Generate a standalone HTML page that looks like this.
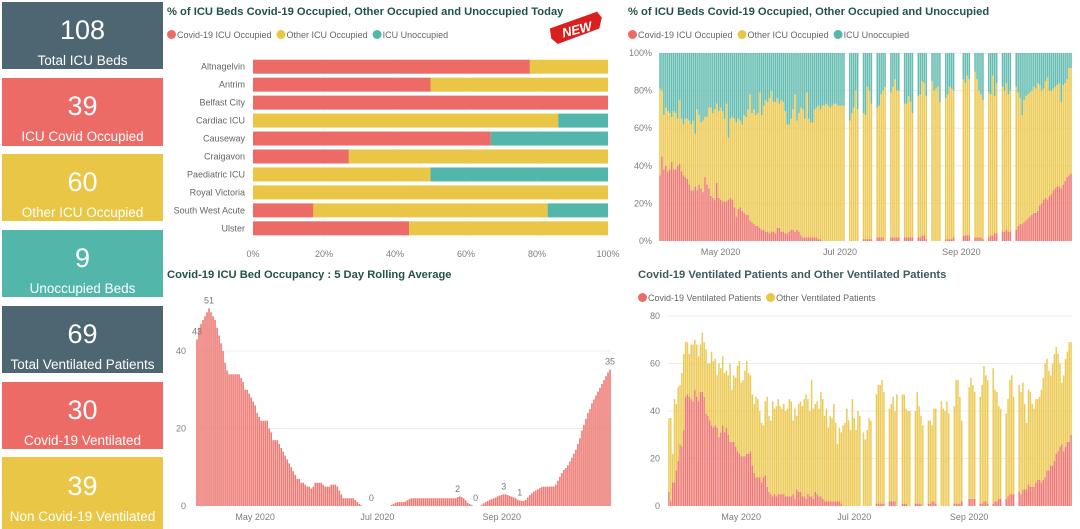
<!DOCTYPE html>
<html><head><meta charset="utf-8"><style>
body{margin:0;width:1080px;height:529px;background:#fff;overflow:hidden;font-family:"Liberation Sans",sans-serif;position:relative}
.card{position:absolute;left:2px;width:161px;color:#fff;text-align:center}
.card .n{position:absolute;left:0;right:0;font-size:27px;line-height:30px}
.card .l{position:absolute;left:0;right:0;font-size:13.5px;line-height:16px}
svg{position:absolute;left:0;top:0}
</style></head><body>
<div class="card" style="top:2px;height:67px;background:#4e6672"><div class="n" style="top:13px">108</div><div class="l" style="top:51px">Total ICU Beds</div></div>
<div class="card" style="top:78px;height:68px;background:#ec6b66"><div class="n" style="top:13px">39</div><div class="l" style="top:51px">ICU Covid Occupied</div></div>
<div class="card" style="top:154px;height:67px;background:#e9c646"><div class="n" style="top:13px">60</div><div class="l" style="top:51px">Other ICU Occupied</div></div>
<div class="card" style="top:230px;height:67px;background:#53b6ab"><div class="n" style="top:13px">9</div><div class="l" style="top:51px">Unoccupied Beds</div></div>
<div class="card" style="top:306px;height:67px;background:#4e6672"><div class="n" style="top:13px">69</div><div class="l" style="top:51px">Total Ventilated Patients</div></div>
<div class="card" style="top:382px;height:67px;background:#ec6b66"><div class="n" style="top:13px">30</div><div class="l" style="top:51px">Covid-19 Ventilated</div></div>
<div class="card" style="top:457px;height:72px;background:#e9c646"><div class="n" style="top:14px">39</div><div class="l" style="top:52px">Non Covid-19 Ventilated</div></div>
<svg id="s" width="1080" height="529" font-family="Liberation Sans, sans-serif"></svg>
<script>
// ---------- data: hospital bar chart ----------
const hospitals=['Altnagelvin','Antrim','Belfast City','Cardiac ICU','Causeway','Craigavon','Paediatric ICU','Royal Victoria','South West Acute','Ulster'];
const hospCovid=[78,50,100,0,67,27,0,0,17,44];
const hospOther=[22,50,0,86,0,73,50,100,66,56];
const hospUnocc=[0,0,0,14,33,0,50,0,17,0];
const pctTicks=[0,20,40,60,80,100];
// ---------- data: rolling average ----------
const rollStart='2020-04-02';
const rollAvg=[43,46,47,48,49,50,51,50,49,48,46,44,42,40,37,35,34,34,34,34,34,34,33,32,30,30,29,28,27,26,24,23,22,22,22,22,20,19,17,17,17,16,15,14,13,12,11,10,9,8,7,7,6,6,5.5,5,5,4.5,5,6,6,6,6,5.5,5,5,5,5.5,5.5,5.5,5,4,3,2,2,2,2,2,2,1.5,1,0.5,0.2,0,0,0,0,0,0,0,0,0,0,0,0,0,0,0.3,0.5,0.8,1,1,1,1,1.2,1.5,1.8,2,2,2,2,2,2,2,2,2,2,2,2,2,2,2,2,2,2,2,2,2,2,2,2.3,2.5,2.3,2,1.5,0.8,0.5,0.3,0,0,0,0,0.3,0.7,1,1.3,1.6,1.8,2,2.2,2.5,2.7,2.9,3,3,2.8,2.6,2.4,2.2,2,1.6,1.4,1.3,1.3,1.6,2.2,2.8,3.3,3.7,4,4.3,4.6,4.9,5,5,5,5,5,5,5.5,6.5,7.5,8.5,9.3,9.8,10.5,11.5,12.5,13.5,14.5,16,17.5,19.5,21,22.5,24,25,26.5,27.5,28.5,29.5,30.5,31.5,32.5,33.5,34.5,35.2];
const rollLabelIdx=[0,6,87,130,139,153,161,rollAvg.length-1];
const rollTicks=[0,20,40];
// ---------- data: ICU % over time (null = no report) ----------
const pctStart='2020-03-31';
const N_=null;
const pctCovid=[35,45,38,40,37,38,42,38,38,40,41,37,35,34,33,30,27,27,29,27,30,28,26,34,30,28,24,23,22,31,23,22,21,21,21,22,23,22,18,13,17,18,16,15,14,14,11,10,9,8,8,7,6,6,5,5,4,5,5,4,7,7,5,5,4,4,5,6,6,5,6,5,3,2,2,2,2,2,2,2,2,1,1,0,0,0,0,0,0,0,0,0,0,0,0,
N_,N_,0,0,0,0,0,N_,N_,1,1,1,1,1,N_,N_,2,2,2,2,0,N_,N_,2,2,2,2,2,N_,N_,2,2,2,2,2,N_,N_,2,2,3,3,1,N_,N_,0,0,0,0,0,N_,N_,1,1,1,1,2,N_,N_,N_,N_,3,3,3,3,N_,N_,2,2,2,2,1,N_,N_,2,3,3,4,4,N_,N_,5,5,6,5,5,N_,N_,
6,8,9,9,10,11,12,13,14,15,15,16,19,20,22,23,22,24,25,27,28,29,29,28,30,32,34,35,36];
const pctOccupied=[81,80,67,71,69,68,66,69,68,65,75,65,62,65,65,64,62,64,57,70,67,63,64,66,66,71,71,68,70,73,69,71,69,65,73,55,65,66,65,63,65,64,62,67,66,70,78,68,70,67,68,79,67,72,75,74,76,80,74,74,76,73,75,74,69,62,62,65,70,78,64,68,71,70,65,79,65,63,63,70,71,72,70,72,72,73,72,71,72,73,73,72,72,72,72,
N_,N_,64,68,71,80,70,N_,N_,68,67,82,80,73,N_,N_,71,72,78,80,82,N_,N_,79,82,86,80,80,N_,N_,73,73,77,74,68,N_,N_,77,78,85,84,77,N_,N_,85,80,81,82,74,N_,N_,76,78,82,81,80,N_,N_,N_,N_,86,84,88,86,N_,N_,90,86,80,78,75,N_,N_,79,78,88,77,84,N_,N_,82,80,84,78,80,N_,N_,
82,79,76,67,75,77,78,79,80,82,81,84,83,80,81,85,87,80,80,81,82,83,84,74,83,84,86,92,92];
const pctOther=pctOccupied.map((t,i)=>t==null?null:t-pctCovid[i]);
const pctUnocc=pctOccupied.map(t=>t==null?null:100-t);
// ---------- data: ventilated ----------
const ventStart='2020-03-23';
const ventCovid=[6,2,10,10,15,19,26,25,32,46,47,46,45,44,49,46,44,48,48,46,39,38,36,34,33,34,33,29,31,34,31,33,30,27,27,27,25,23,22,21,21,21,22,22,23,17,14,12,12,12,10,12,13,8,6,5,4,5,4,5,5,5,5,4,4,4,4,5,3,7,6,6,4,4,3,5,4,4,3,6,5,4,4,3,2,2,2,2,2,2,2,2,2,1,0,0,0,0,0,0,0,0,0,0,
N_,0,0,0,0,0,N_,N_,1,1,1,1,1,N_,N_,2,2,2,2,0,N_,N_,1,1,1,0,0,N_,N_,1,1,1,1,0,N_,N_,1,1,2,2,1,N_,N_,0,0,0,0,0,N_,N_,1,1,1,1,2,N_,N_,N_,3,3,3,3,N_,N_,1,1,2,2,1,N_,N_,1,2,2,3,3,N_,N_,3,4,5,5,5,N_,N_,
6,5,7,7,7,9,8,8,8,10,11,11,10,11,12,15,15,17,17,19,22,23,25,26,23,25,27,27,30];
const ventTotal=[37,37,22,45,43,50,51,56,64,69,69,64,68,68,70,68,63,68,73,69,66,60,60,65,61,62,55,60,58,63,56,57,55,60,49,55,54,59,61,52,53,57,61,56,55,47,43,46,45,40,35,34,44,46,38,36,44,41,42,45,42,41,43,40,41,45,44,36,41,38,43,44,42,45,47,45,40,53,41,43,44,41,48,45,38,41,33,38,37,43,35,26,33,31,34,35,41,36,32,45,37,32,40,38,
N_,31,28,32,37,36,N_,N_,47,51,51,53,48,N_,N_,41,43,46,40,47,N_,N_,47,47,41,40,40,N_,N_,40,48,42,38,34,N_,N_,36,36,34,41,41,N_,N_,44,41,40,44,39,N_,N_,42,53,53,46,36,N_,N_,N_,50,54,51,48,N_,N_,46,51,59,55,53,N_,N_,58,49,48,42,41,N_,N_,39,45,53,55,46,N_,N_,
51,48,52,43,35,49,48,43,41,45,45,46,49,54,60,62,57,55,60,64,67,64,60,52,55,62,65,69,69];
const ventOther=ventTotal.map((t,i)=>t==null?null:t-ventCovid[i]);
const ventTicks=[0,20,40,60,80];
const monthLabels=['May 2020','Jul 2020','Sep 2020'];
const monthDates=['2020-05-01','2020-07-01','2020-09-01'];

const RED='#ec6b66',YEL='#e9c646',TEAL='#53b6ab',GRID='#ececec',TXT='#7d7d7d';
const S=document.getElementById('s');const NS='http://www.w3.org/2000/svg';
function mk(tag,a,parent){const e=document.createElementNS(NS,tag);for(const k in a)e.setAttribute(k,a[k]);(parent||S).appendChild(e);return e;}
function txt(x,y,t,size,fill,anchor,weight){const e=mk('text',{x:x,y:y,'font-size':size,fill:fill,'text-anchor':anchor||'start','font-weight':weight||'normal'});e.textContent=t;return e;}
function lin(d0,d1,r0,r1){return v=>r0+(v-d0)/(d1-d0)*(r1-r0);}
function days(a,b){return Math.round((new Date(b)-new Date(a))/864e5);}

function title(x,y,t,c,name){const e=txt(x,y,t,11.2,c||'#24524b','start','bold');

}
function legend(x,y,items,name){let cx=x;items.forEach(it=>{const g=mk('g',{});


mk('circle',{cx:cx+4.5,cy:y-3.5,r:4.5,fill:it[1]},g);const t=txt(cx+10,y,it[0],9,'#666');g.appendChild(t);cx+=10+t.getComputedTextLength()+5;});}
title(167,15,'% of ICU Beds Covid-19 Occupied, Other Occupied and Unoccupied Today',null,'hospital-chart-title');
legend(167,38,[['Covid-19 ICU Occupied',RED],['Other ICU Occupied',YEL],['ICU Unoccupied',TEAL]],'hospital-legend');
title(628,15,'% of ICU Beds Covid-19 Occupied, Other Occupied and Unoccupied',null,'icu-pct-chart-title');
legend(628,38,[['Covid-19 ICU Occupied',RED],['Other ICU Occupied',YEL],['ICU Unoccupied',TEAL]],'icu-pct-legend');
title(167,278,'Covid-19 ICU Bed Occupancy : 5 Day Rolling Average',null,'rolling-avg-title');
title(638,278,'Covid-19 Ventilated Patients and Other Ventilated Patients','#3d5a62','ventilated-title');
legend(638,301,[['Covid-19 Ventilated Patients',RED],['Other Ventilated Patients',YEL]],'ventilated-legend');

// NEW badge
const nb=mk('g',{transform:'translate(577,30) rotate(-14)'});


mk('path',{d:'M-26,-8 L24,-13 L27,-6 L22,4 L-22,9 L-27,2 Z',fill:'#d9201f'},nb);
const nt=txt(0,4,'NEW',13,'#fff','middle','bold');nt.setAttribute('font-style','italic');nb.appendChild(nt);

// hospital chart
(function(){const x=lin(0,100,253,608);const rowY=i=>66.7+i*17.96;
pctTicks.forEach(v=>{const l=mk('line',{x1:x(v),x2:x(v),y1:57,y2:238,stroke:GRID,'stroke-dasharray':'1,2'});


const t=txt(x(v),257,v+'%',9,TXT,'middle');

});
hospitals.forEach((h,i)=>{const y=rowY(i);const t=txt(245,y+3,h,9,'#666','end');


let acc=0;[[hospCovid,RED],[hospOther,YEL],[hospUnocc,TEAL]].forEach(([arr,c])=>{const v=arr[i];if(v>0){const r=mk('rect',{x:x(acc),y:y-7,width:x(acc+v)-x(acc),height:14,fill:c});

}acc+=v;});});})();

function timeChart(cfg){const n=cfg.series[0].length;const slot=(cfg.x1-cfg.x0)/n;const y=lin(0,cfg.yMax,cfg.base,cfg.top);
cfg.ticks.forEach(v=>{if(cfg.grid0||v>0){const l=mk('line',{x1:cfg.x0,x2:cfg.x1,y1:y(v),y2:y(v),stroke:GRID});

}
const t=txt(cfg.tickX,y(v)+3,v+(cfg.suffix||''),9,TXT,'end');

});
monthLabels.forEach((m,k)=>{const d=days(cfg.start,monthDates[k]);const t=txt(cfg.x0+(d+0.5)*slot,cfg.labelY,m,9,TXT,'middle');

});
for(let i=0;i<n;i++){let acc=0;cfg.series.forEach((arr,s)=>{const v=arr[i];if(v==null||v<=0)return;const r=mk('rect',{x:cfg.x0+i*slot+slot*0.1,y:y(acc+v),width:slot*0.8,height:y(acc)-y(acc+v),fill:cfg.colors[s]});


acc+=v;});}
return {slot:slot,y:y};}

const rc=timeChart({name:'rolling-avg',series:[rollAvg],colors:['#ee7a75'],x0:196,x1:611,base:506,top:291,yMax:55.5,ticks:rollTicks,tickX:186,labelY:520,start:rollStart});
rollLabelIdx.forEach(i=>{const t=txt(196+(i+0.5)*rc.slot,rc.y(rollAvg[i])-5,String(Math.round(rollAvg[i])),9,'#777','middle');

});
timeChart({name:'icu-pct',series:[pctCovid,pctOther,pctUnocc],colors:['#ee7a75','#ecca55','#66bdb2'],x0:659,x1:1072,base:241,top:53,yMax:100,ticks:pctTicks,tickX:652,suffix:'%',labelY:255,start:pctStart,grid0:false});
timeChart({name:'ventilated',series:[ventCovid,ventOther],colors:['#ee7a75','#ecca55'],x0:668,x1:1072,base:506,top:316,yMax:80,ticks:ventTicks,tickX:660,labelY:520,start:ventStart});
</script>
</body></html>
